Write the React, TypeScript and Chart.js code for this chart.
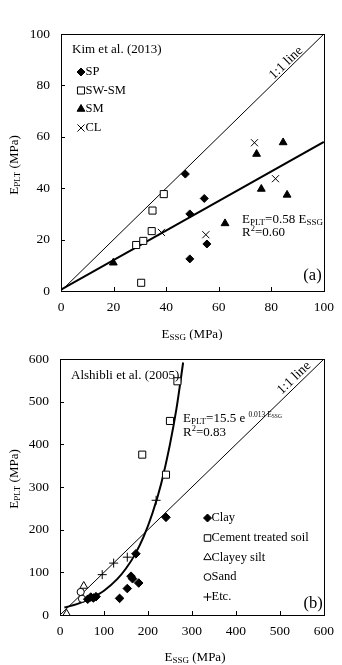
import React, { useEffect, useRef } from "react";
import { Chart, registerables } from "chart.js";
import * as helpers from "chart.js/helpers";

Chart.register(...registerables);

// ---------- Data (a) Kim et al. (2013) ----------
const kimSP = [[47.3, 45.5], [49, 30], [54.5, 36], [49, 12.5], [55.5, 18.3]];
const kimSWSM = [[28.6, 17.9], [31.3, 19.5], [34.5, 23.3], [34.8, 31.3], [39.1, 37.7], [30.5, 3.2]];
const kimSM = [[19.9, 11], [62.4, 26.3], [74.4, 53.3], [76.2, 39.7], [84.5, 57.8], [86, 37.4]];
const kimCL = [[38.2, 22.8], [55.1, 21.9], [73.6, 57.7], [81.6, 43.7]];
const kimOneToOne = [[0, 0], [100, 100]];
const kimFit = [[0, 0.5], [100, 58]];
const kimTicks = [0, 20, 40, 60, 80, 100];

// ---------- Data (b) Alshibli et al. (2005) ----------
const alsClay = [[63, 37], [70, 42], [76, 40], [82, 43], [135.5, 39], [153, 62], [161.5, 91], [165, 85], [179, 75], [172.6, 143.5], [241, 229]];
const alsCement = [[267, 548], [250, 455], [187, 376], [241, 329]];
const alsSilt = [[15, 3], [54, 68]];
const alsSand = [[47, 54], [50, 38]];
const alsEtc = [[96, 94.6], [122, 121.7], [153, 135.6], [218.5, 269]];
const alsOneToOne = [[0, 0], [600, 600]];
const alsFit = [[10, 17.6], [40, 26], [70, 39], [100, 57], [130, 84], [150, 109], [170, 141], [190, 183], [210, 238], [230, 308], [250, 400], [265, 485], [280, 592]];
const alsTicks = [0, 100, 200, 300, 400, 500, 600];

const FONT = '"Liberation Serif", "Times New Roman", serif';
const f = (s: number) => `${s}px ${FONT}`;

type Part = { t: string; size: number; dy?: number };

function drawRich(ctx: CanvasRenderingContext2D, parts: Part[], x: number, y: number, align: "left" | "center" = "left") {
  ctx.save();
  ctx.textBaseline = "middle";
  ctx.textAlign = "left";
  ctx.fillStyle = "#000";
  let total = 0;
  for (const p of parts) { ctx.font = f(p.size); total += ctx.measureText(p.t).width; }
  let cx = align === "center" ? x - total / 2 : x;
  for (const p of parts) {
    ctx.font = f(p.size);
    ctx.fillText(p.t, cx, y + (p.dy || 0));
    cx += ctx.measureText(p.t).width;
  }
  ctx.restore();
}

const toXY = (arr: number[][]) => arr.map(([x, y]) => ({ x, y }));

type Txt = {
  title: { text: string; x: number; y: number };
  legend: { x: number; tx: number; rows: number[]; items: { label: string; style: any; radius: number; fill: string; bw: number }[] };
  oneToOne: { x: number; y: number; angle: number };
  eq: { x: number; y1: number; y2: number; parts: Part[]; r2: string };
  tag: { text: string; x: number; y: number };
  yTitle: { x: number; y: number };
  xTitle: { x: number; y: number };
};

function makePlugin(t: Txt) {
  return {
    id: "decor",
    afterDatasetsDraw(chart: any) {
      const ctx = chart.ctx as CanvasRenderingContext2D;
      const a = chart.chartArea;
      const xs = chart.scales.x, ys = chart.scales.y;
      ctx.save();
      ctx.strokeStyle = "#000";
      ctx.lineWidth = 1;
      ctx.strokeRect(Math.round(a.left) + 0.5, Math.round(a.top) + 0.5, Math.round(a.right - a.left), Math.round(a.bottom - a.top));
      ctx.beginPath();
      for (const tk of xs.ticks) {
        const px = Math.round(xs.getPixelForValue(tk.value)) + 0.5;
        ctx.moveTo(px, a.bottom);
        ctx.lineTo(px, a.bottom - 4);
      }
      for (const tk of ys.ticks) {
        const py = Math.round(ys.getPixelForValue(tk.value)) + 0.5;
        ctx.moveTo(a.left, py);
        ctx.lineTo(a.left + 4, py);
      }
      ctx.stroke();
      ctx.restore();

      // title
      drawRich(ctx, [{ t: t.title.text, size: 13 }], t.title.x, t.title.y);
      // legend
      t.legend.items.forEach((it, i) => {
        const y = t.legend.rows[i];
        ctx.save();
        ctx.fillStyle = it.fill;
        ctx.strokeStyle = "#000";
        ctx.lineWidth = it.bw;
        helpers.drawPoint(ctx, { pointStyle: it.style, radius: it.radius, borderWidth: it.bw, rotation: 0 }, t.legend.x, y);
        ctx.restore();
        drawRich(ctx, [{ t: it.label, size: 12.5 }], t.legend.tx, y);
      });
      // 1:1 line label
      ctx.save();
      ctx.translate(t.oneToOne.x, t.oneToOne.y);
      ctx.rotate(-t.oneToOne.angle * Math.PI / 180);
      drawRich(ctx, [{ t: "1:1 line", size: 13.5 }], 0, 0, "center");
      ctx.restore();
      // equation
      drawRich(ctx, t.eq.parts, t.eq.x, t.eq.y1);
      drawRich(ctx, [{ t: "R", size: 13 }, { t: "2", size: 8.5, dy: -4 }, { t: t.eq.r2, size: 13 }], t.eq.x, t.eq.y2);
      // tag
      drawRich(ctx, [{ t: t.tag.text, size: 16.5 }], t.tag.x, t.tag.y, "center");
      // axis titles
      drawRich(ctx, [{ t: "E", size: 13 }, { t: "SSG", size: 9, dy: 3 }, { t: " (MPa)", size: 13 }], t.xTitle.x, t.xTitle.y, "center");
      ctx.save();
      ctx.translate(t.yTitle.x, t.yTitle.y);
      ctx.rotate(-Math.PI / 2);
      drawRich(ctx, [{ t: "E", size: 13 }, { t: "PLT", size: 9, dy: 3 }, { t: " (MPa)", size: 13 }], 0, 0, "center");
      ctx.restore();
    },
  };
}

function axes(max: number, ticks: number[], yWidth: number, xHeight: number) {
  const step = ticks[1] - ticks[0];
  const tickFont = { family: FONT, size: 13.5 };
  return {
    x: {
      type: "linear", min: 0, max, ticks: { stepSize: step, font: tickFont, color: "#000", padding: 8, maxRotation: 0 },
      grid: { display: false, drawTicks: false }, border: { display: false },
      afterFit: (s: any) => { s.height = xHeight; },
    },
    y: {
      type: "linear", min: 0, max, ticks: { stepSize: step, font: tickFont, color: "#000", padding: 11 },
      grid: { display: false, drawTicks: false }, border: { display: false },
      afterFit: (s: any) => { s.width = yWidth; },
    },
  };
}

const black = "#000";

function ChartA() {
  const ref = useRef<HTMLCanvasElement>(null);
  useEffect(() => {
    const chart = new Chart(ref.current!, {
      type: "scatter",
      data: {
        datasets: [
          { label: "SP", data: toXY(kimSP), pointStyle: "rectRot", pointRadius: 4, backgroundColor: black, borderColor: black, borderWidth: 1 },
          { label: "SW-SM", data: toXY(kimSWSM), pointStyle: "rect", pointRadius: 5, backgroundColor: "#fff", borderColor: black, borderWidth: 1 },
          { label: "SM", data: toXY(kimSM), pointStyle: "triangle", pointRadius: 4.5, backgroundColor: black, borderColor: black, borderWidth: 1 },
          { label: "CL", data: toXY(kimCL), pointStyle: "crossRot", pointRadius: 5, backgroundColor: black, borderColor: black, borderWidth: 1 },
          { label: "fit", data: toXY(kimFit), showLine: true, pointRadius: 0, borderColor: black, borderWidth: 2 },
          { label: "1:1", data: toXY(kimOneToOne), showLine: true, pointRadius: 0, borderColor: black, borderWidth: 1 },
        ] as any,
      },
      options: {
        animation: false, responsive: false,
        layout: { padding: { top: 34, right: 13, left: 0, bottom: 0 } },
        plugins: { legend: { display: false }, tooltip: { enabled: false } },
        scales: axes(100, kimTicks, 61, 49) as any,
      },
      plugins: [makePlugin({
        title: { text: "Kim et al. (2013)", x: 72, y: 50 },
        legend: {
          x: 81, tx: 85.5, rows: [72, 90.5, 109, 128],
          items: [
            { label: "SP", style: "rectRot", radius: 4, fill: black, bw: 1 },
            { label: "SW-SM", style: "rect", radius: 5, fill: "#fff", bw: 1 },
            { label: "SM", style: "triangle", radius: 4.5, fill: black, bw: 1 },
            { label: "CL", style: "crossRot", radius: 5, fill: black, bw: 1 },
          ],
        },
        oneToOne: { x: 286, y: 63, angle: 43.8 },
        eq: {
          x: 242, y1: 220, y2: 233, r2: "=0.60",
          parts: [{ t: "E", size: 13 }, { t: "PLT", size: 9, dy: 3 }, { t: "=0.58 E", size: 13 }, { t: "SSG", size: 9, dy: 3 }],
        },
        tag: { text: "(a)", x: 312.5, y: 276 },
        yTitle: { x: 15, y: 165 },
        xTitle: { x: 192, y: 335 },
      }) as any],
    });
    return () => chart.destroy();
  }, []);
  return <canvas ref={ref} width={342} height={340} style={{ display: "block", width: 342, height: 340 }} />;
}

function ChartB() {
  const ref = useRef<HTMLCanvasElement>(null);
  useEffect(() => {
    const chart = new Chart(ref.current!, {
      type: "scatter",
      data: {
        datasets: [
          { label: "Clay", data: toXY(alsClay), pointStyle: "rectRot", pointRadius: 4.3, backgroundColor: black, borderColor: black, borderWidth: 1 },
          { label: "Cement treated soil", data: toXY(alsCement), pointStyle: "rect", pointRadius: 5, backgroundColor: "#fff", borderColor: black, borderWidth: 1 },
          { label: "Clayey silt", data: toXY(alsSilt), pointStyle: "triangle", pointRadius: 4.5, backgroundColor: "#fff", borderColor: black, borderWidth: 1 },
          { label: "Sand", data: toXY(alsSand), pointStyle: "circle", pointRadius: 3.6, backgroundColor: "#fff", borderColor: black, borderWidth: 1 },
          { label: "Etc.", data: toXY(alsEtc), pointStyle: "cross", pointRadius: 4.5, backgroundColor: black, borderColor: black, borderWidth: 1 },
          { label: "fit", data: toXY(alsFit), showLine: true, pointRadius: 0, borderColor: black, borderWidth: 2, cubicInterpolationMode: "monotone" },
          { label: "1:1", data: toXY(alsOneToOne), showLine: true, pointRadius: 0, borderColor: black, borderWidth: 1 },
        ] as any,
      },
      options: {
        animation: false, responsive: false,
        layout: { padding: { top: 17, right: 12, left: 0, bottom: 0 } },
        plugins: { legend: { display: false }, tooltip: { enabled: false } },
        scales: axes(600, alsTicks, 60, 50) as any,
      },
      plugins: [makePlugin({
        title: { text: "Alshibli et al. (2005)", x: 71, y: 36 },
        legend: {
          x: 207.5, tx: 211.5, rows: [178, 198, 217.5, 237, 257],
          items: [
            { label: "Clay", style: "rectRot", radius: 4, fill: black, bw: 1 },
            { label: "Cement treated soil", style: "rect", radius: 4.6, fill: "#fff", bw: 1 },
            { label: "Clayey silt", style: "triangle", radius: 4.3, fill: "#fff", bw: 1 },
            { label: "Sand", style: "circle", radius: 3.4, fill: "#fff", bw: 1 },
            { label: "Etc.", style: "cross", radius: 4, fill: black, bw: 1 },
          ],
        },
        oneToOne: { x: 294, y: 38, angle: 43.7 },
        eq: {
          x: 183, y1: 79, y2: 93, r2: "=0.83",
          parts: [
            { t: "E", size: 13 }, { t: "PLT", size: 9, dy: 3 }, { t: "=15.5 e ", size: 13 },
            { t: "0.013 E", size: 7.5, dy: -4 }, { t: "SSG", size: 5.5, dy: -2.5 },
          ],
        },
        tag: { text: "(b)", x: 313, y: 264 },
        yTitle: { x: 15, y: 139 },
        xTitle: { x: 195, y: 318 },
      }) as any],
    });
    return () => chart.destroy();
  }, []);
  return <canvas ref={ref} width={342} height={325} style={{ display: "block", width: 342, height: 325 }} />;
}

export default function App() {
  return (
    <div style={{ position: "absolute", left: 0, top: 0, width: 342, height: 665, background: "#fff" }}>
      <ChartA />
      <ChartB />
    </div>
  );
}
